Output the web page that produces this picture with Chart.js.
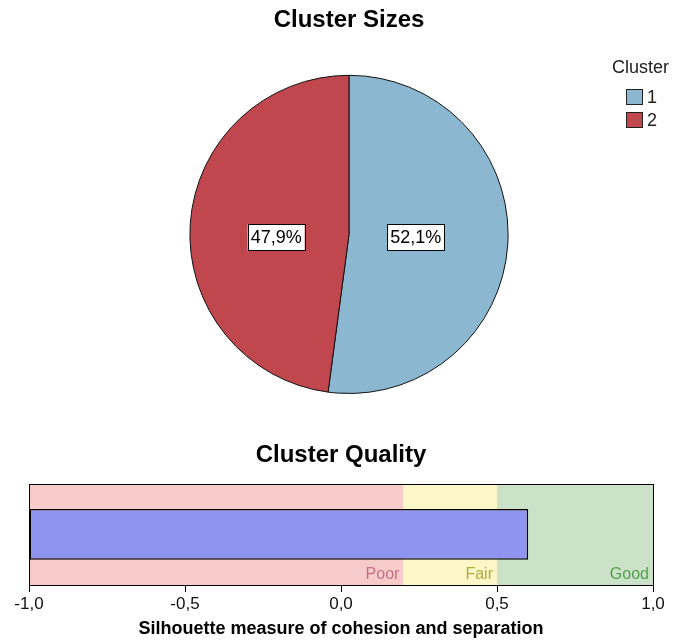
<!DOCTYPE html>
<html>
<head>
<meta charset="utf-8">
<script src="https://cdn.jsdelivr.net/npm/chart.js@4.4.1/dist/chart.umd.min.js"></script>
<style>
  html, body { margin: 0; padding: 0; background: #fff; }
  #top { position: absolute; left: 0; top: 0; width: 676px; height: 420px; }
  #bottom { position: absolute; left: 0; top: 420px; width: 676px; height: 220px; }
</style>
</head>
<body>
<div id="top"><canvas id="sizeChart"></canvas></div>
<div id="bottom"><canvas id="qualityChart"></canvas></div>
<script>
// Tamaño de los clusters (porcentaje)
const clusterLabels = ['1', '2'];
const clusterShares = [52.1, 47.9];
const clusterColors = ['#8cb7d1', '#c1474f'];

// Calidad de los clusters (silueta)
const silhouetteValue = [0.6];
const axisTicks = [-1.0, -0.5, 0.0, 0.5, 1.0];
const zoneNames = ['Poor', 'Fair', 'Good'];
const zoneLimits = [-1.0, 0.2, 0.5, 1.0];
const zoneFill = ['#f8cbcb', '#fbf7c6', '#cce2c8'];
const zoneText = ['#c2708a', '#b3a843', '#52a04e'];

const FONT = "'Liberation Sans', Arial, sans-serif";
const comma = v => v.toFixed(1).replace('.', ',');

Chart.defaults.font.family = FONT;
Chart.defaults.color = '#000';

// Etiquetas de porcentaje dentro de cada sector
const pieLabels = {
    id: 'pieLabels',
    afterDatasetsDraw(chart) {
        const ctx = chart.ctx;
        const meta = chart.getDatasetMeta(0);
        ctx.save();
        ctx.font = '18px ' + FONT;
        ctx.textAlign = 'center';
        ctx.textBaseline = 'middle';
        meta.data.forEach((arc, i) => {
            const p = arc.getProps(['x', 'y', 'startAngle', 'endAngle', 'outerRadius'], true);
            const mid = (p.startAngle + p.endAngle) / 2;
            const lx = p.x - 3 + Math.cos(mid) * p.outerRadius * 0.44;
            const ly = p.y + 3;
            const txt = comma(clusterShares[i]) + '%';
            const w = ctx.measureText(txt).width + 6;
            const h = 26;
            ctx.fillStyle = '#fff';
            ctx.fillRect(lx - w / 2, ly - h / 2, w, h);
            ctx.strokeStyle = '#000';
            ctx.lineWidth = 1;
            ctx.strokeRect(Math.round(lx - w / 2) + 0.5, Math.round(ly - h / 2) + 0.5, Math.round(w), h);
            ctx.fillStyle = '#000';
            ctx.fillText(txt, lx, ly + 1);
        });
        ctx.restore();
    }
};

// Leyenda con título a la derecha
const sideLegend = {
    id: 'sideLegend',
    afterDraw(chart) {
        const ctx = chart.ctx;
        const x0 = chart.width - 64;
        ctx.save();
        ctx.font = '18px ' + FONT;
        ctx.fillStyle = '#222';
        ctx.textBaseline = 'middle';
        ctx.fillText('Cluster', x0, 68);
        clusterLabels.forEach((lab, i) => {
            const y = 89 + i * 23;
            ctx.fillStyle = clusterColors[i];
            ctx.fillRect(x0 + 14, y, 16, 15);
            ctx.strokeStyle = '#222';
            ctx.lineWidth = 1;
            ctx.strokeRect(x0 + 14.5, y + 0.5, 16, 15);
            ctx.fillStyle = '#222';
            ctx.fillText(lab, x0 + 35, y + 9);
        });
        ctx.restore();
    }
};

new Chart(document.getElementById('sizeChart'), {
    type: 'pie',
    data: {
        labels: clusterLabels,
        datasets: [{
            data: clusterShares,
            backgroundColor: clusterColors,
            borderColor: '#111',
            borderWidth: 1
        }]
    },
    options: {
        responsive: true,
        maintainAspectRatio: false,
        animation: false,
        layout: { padding: { left: 22, bottom: 26 } },
        plugins: {
            title: {
                display: true,
                text: 'Cluster Sizes',
                font: { size: 24, weight: 'bold' },
                padding: { top: 6, bottom: 40 }
            },
            legend: { display: false },
            tooltip: { enabled: false }
        }
    },
    plugins: [pieLabels, sideLegend]
});

// Bandas Poor / Fair / Good detrás de la barra y marco del área
const zones = {
    id: 'zones',
    beforeDatasetsDraw(chart) {
        const { ctx, chartArea: a, scales: { x } } = chart;
        ctx.save();
        zoneNames.forEach((name, i) => {
            const x1 = x.getPixelForValue(zoneLimits[i]);
            const x2 = x.getPixelForValue(zoneLimits[i + 1]);
            ctx.fillStyle = zoneFill[i];
            ctx.fillRect(x1, a.top, x2 - x1, a.bottom - a.top);
            ctx.fillStyle = zoneText[i];
            ctx.font = '16px ' + FONT;
            ctx.textAlign = 'right';
            ctx.textBaseline = 'alphabetic';
            ctx.fillText(name, x2 - 4, a.bottom - 6);
        });
        ctx.restore();
    },
    afterDatasetsDraw(chart) {
        const { ctx, chartArea: a } = chart;
        ctx.save();
        ctx.strokeStyle = '#000';
        ctx.lineWidth = 1;
        ctx.strokeRect(Math.round(a.left) + 0.5, Math.round(a.top) + 0.5,
            Math.round(a.right - a.left), Math.round(a.bottom - a.top));
        ctx.restore();
    }
};

new Chart(document.getElementById('qualityChart'), {
    type: 'bar',
    data: {
        labels: [''],
        datasets: [{
            data: silhouetteValue,
            base: zoneLimits[0],
            backgroundColor: '#8e94ef',
            borderColor: '#000',
            borderWidth: 1.5,
            borderSkipped: false,
            barPercentage: 0.5,
            categoryPercentage: 1
        }]
    },
    options: {
        indexAxis: 'y',
        responsive: true,
        maintainAspectRatio: false,
        animation: false,
        layout: { padding: { left: 29, right: 23, bottom: 0 } },
        scales: {
            x: {
                min: axisTicks[0],
                max: axisTicks[axisTicks.length - 1],
                afterBuildTicks: axis => { axis.ticks = axisTicks.map(v => ({ value: v })); },
                ticks: {
                    font: { size: 17 },
                    color: '#111',
                    padding: 2,
                    maxRotation: 0,
                    callback: v => comma(v)
                },
                grid: {
                    drawOnChartArea: false,
                    drawTicks: true,
                    tickLength: 7,
                    color: '#000'
                },
                border: { color: '#000' },
                title: {
                    display: true,
                    text: 'Silhouette measure of cohesion and separation',
                    font: { size: 18, weight: 'bold' },
                    padding: { top: 2, bottom: 0 }
                }
            },
            y: { display: false }
        },
        plugins: {
            title: {
                display: true,
                text: 'Cluster Quality',
                font: { size: 24, weight: 'bold' },
                padding: { top: 21, bottom: 14 }
            },
            legend: { display: false },
            tooltip: { enabled: false }
        }
    },
    plugins: [zones]
});
</script>
</body>
</html>
